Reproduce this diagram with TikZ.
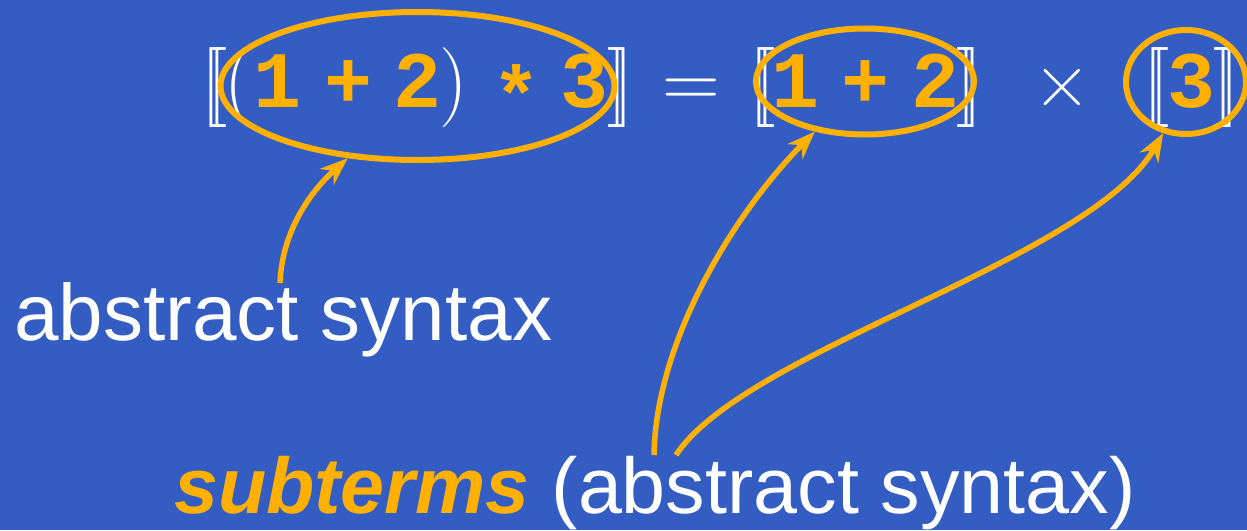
\documentclass[tikz,border=0pt]{standalone}
\usepackage{fontspec}
\newfontfamily\arial{Liberation Sans}
\newfontfamily\mono{Liberation Mono}
\usetikzlibrary{shapes.geometric,arrows.meta}
\definecolor{bg}{RGB}{52,93,196}
\definecolor{gold}{RGB}{255,176,0}
\newcommand{\lbb}{[\kern-0.175em[}
\newcommand{\rbb}{]\kern-0.175em]}
\begin{document}
\begin{tikzpicture}[x=1pt,y=-1pt,
  big/.style={inner sep=0,outer sep=0,font=\fontsize{80}{96}\selectfont,text=white,anchor=base},
  code/.style={big,font=\fontsize{80}{96}\selectfont\mono\bfseries,text=gold},
  ring/.style={draw=gold,line width=6pt,shape=ellipse,inner sep=0},
  arr/.style={draw=gold,line width=5.5pt,-{Stealth[length=28pt,width=21pt,inset=9pt]}},
  say/.style={anchor=base west,inner sep=0,text=white,font=\fontsize{80}{96}\selectfont\arial}
]
\fill[bg] (0,0) rectangle (1247,530);
\useasboundingbox (0,0) rectangle (1247,530);
% formula
\node[big] (lb1) at (214,107) {\lbb};
\node[big] (lp) at (239,107) {(};
\node[code] (c1) at (278,107) {1};
\node[code] (c2) at (348,107) {+};
\node[code] (c3) at (417,107) {2};
\node[big] (rp) at (454,107) {)};
\node[code] (c4) at (516,122) {*};
\node[code] (c5) at (584,107) {3};
\node[big] (rb1) at (620,107) {\rbb};
\node[big] (eq) at (691,107) {=};
\node[big] (lb2) at (762,107) {\lbb};
\node[code] (d1) at (795,107) {1};
\node[code] (d2) at (865,107) {+};
\node[code] (d3) at (935,107) {2};
\node[big] (rb2) at (969,107) {\rbb};
\node[big] (times) at (1062,107) {×};
\node[big] (lb3) at (1156,107) {\lbb};
\node[code] (f1) at (1191,107) {3};
\node[big] (rb3) at (1226,107) {\rbb};
% rings
\node[ring,minimum width=394pt,minimum height=148pt] (e1) at (417.5,86) {};
\node[ring,minimum width=218pt,minimum height=106pt] (e2) at (865,81.5) {};
\node[ring,minimum width=120pt,minimum height=104pt] (e3) at (1186,82) {};
% labels
\node[say] (abs) at (14,340) {abstract syntax};
\node[say,font=\fontsize{79}{95}\selectfont\arial] (sub) at (174,513) {{\color{gold}\bfseries\itshape subterms} (abstract syntax)};
% arrows
\coordinate (s1) at (280,283);
\coordinate (s2) at (654,455);
\coordinate (s3) at (676,455);
\draw[arr] (s1) .. controls (282,230) and (312,190) .. (e1.226);
\draw[arr] (s2) .. controls (656,340) and (735,212) .. (e2.225);
\draw[arr] (s3) .. controls (745,350) and (1090,260) .. (e3.246);
\end{tikzpicture}
\end{document}
